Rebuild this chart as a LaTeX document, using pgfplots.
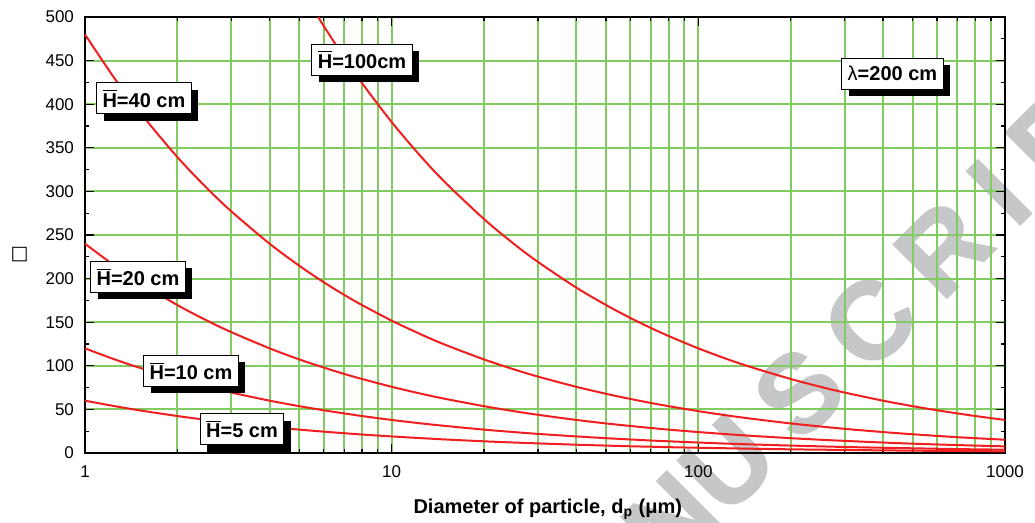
\documentclass[border=0pt]{standalone}
\usepackage{pgfplots}
\pgfplotsset{compat=1.18}
\usepackage{fontspec}
\setmainfont{Liberation Sans}
\newfontfamily\dejavu{DejaVu Sans}
\newfontfamily\wmfont{Liberation Sans Bold}[FakeBold=1.5, LetterSpace=22]
\usetikzlibrary{shadows}
\definecolor{gridgreen}{RGB}{128,204,96}
\definecolor{curvered}{RGB}{240,30,30}
\definecolor{wmgray}{RGB}{198,199,200}
\tikzset{lbl/.style={draw=black, line width=0.5pt, fill=white,
  font=\bfseries\fontsize{10}{12}\selectfont, inner xsep=3pt, inner ysep=2pt,
  minimum height=15.5pt,
  drop shadow={shadow xshift=3.5pt, shadow yshift=-3.5pt, opacity=1, fill=black}}}
\begin{document}
\begin{tikzpicture}
% watermark, beneath the chart
\node[rotate=45, anchor=base west, text=wmgray, inner sep=0]
  at (320.5pt,-33pt) {\wmfont\fontsize{55}{60}\selectfont USCRIPT};
\node[rotate=45, anchor=base east, text=wmgray, inner sep=0]
  at (320.5pt,-33pt) {\wmfont\fontsize{55}{60}\selectfont ACCEPTED MAN};
\begin{axis}[
  at={(0,0)}, anchor=south west,
  xmode=log, xmin=1, xmax=1000, ymin=0, ymax=500,
  scale only axis, width=460pt, height=218pt,
  xtick={1,10,100,1000}, xticklabels={1,10,100,1000},
  minor xtick={2,3,4,5,6,7,8,9,20,30,40,50,60,70,80,90,200,300,400,500,600,700,800,900},
  ytick={0,50,...,500}, minor ytick={25,75,...,475},
  xmajorgrids, xminorgrids, ymajorgrids,
  major grid style={gridgreen, line width=1pt},
  minor grid style={gridgreen, line width=1pt},
  tick align=inside, major tick length=4.5pt, minor tick length=2.2pt,
  every tick/.style={black, line width=0.6pt},
  axis line style={line width=1pt},
  /pgf/number format/assume math mode=true,
  tick label style={font=\fontsize{8.5}{10}\selectfont},
  xticklabel style={yshift=-3pt},
  yticklabel style={xshift=-2pt},
  xlabel={Diameter of particle, d\textsubscript{p} (μm)},
  xlabel style={font=\bfseries\fontsize{10}{12}\selectfont, at={(axis description cs:0.503,0)}, anchor=base, yshift=-30.5pt},
  ylabel={\dejavu □},
  ylabel style={rotate=-90, font=\fontsize{9.5}{11}\selectfont, at={(axis description cs:-0.0712,0.455)}, anchor=center},
  clip=false,
]
% H = 100 cm
\addplot[curvered, line width=1pt, smooth] coordinates {
(5.76,500) (6,489.9) (7,453.6) (8,424.3) (10,379.5) (12.5,339.4) (15,309.8) (20,268.3)
(25,240) (30,219.1) (40,189.7) (50,169.7) (60,154.9) (70,143.4) (80,134.2) (100,120)
(125,107.3) (150,98.0) (200,84.9) (250,75.9) (300,69.3) (400,60) (500,53.7) (600,49.0)
(700,45.4) (800,42.4) (1000,37.9)};
% H = 40 cm
\addplot[curvered, line width=1pt, smooth] coordinates {
(1,480) (1.25,429.3) (1.5,391.9) (2,339.4) (2.5,303.6) (3,277.1) (4,240) (5,214.7)
(6,195.9) (7,181.4) (8,169.7) (10,151.8) (12.5,135.8) (15,123.9) (20,107.3) (25,96)
(30,87.6) (40,75.9) (50,67.9) (60,62.0) (70,57.4) (80,53.7) (100,48) (125,42.9)
(150,39.2) (200,33.9) (250,30.4) (300,27.7) (400,24) (500,21.5) (600,19.6) (700,18.1)
(800,17.0) (1000,15.2)};
% H = 20 cm
\addplot[curvered, line width=1pt, smooth] coordinates {
(1,240) (1.25,214.7) (1.5,196.0) (2,169.7) (2.5,151.8) (3,138.6) (4,120) (5,107.3)
(6,98.0) (7,90.7) (8,84.9) (10,75.9) (12.5,67.9) (15,62.0) (20,53.7) (25,48)
(30,43.8) (40,37.9) (50,33.9) (60,31.0) (70,28.7) (80,26.8) (100,24) (125,21.5)
(150,19.6) (200,17.0) (250,15.2) (300,13.9) (400,12) (500,10.7) (600,9.8) (700,9.1)
(800,8.5) (1000,7.6)};
% H = 10 cm
\addplot[curvered, line width=1pt, smooth] coordinates {
(1,120) (1.25,107.3) (1.5,98.0) (2,84.9) (2.5,75.9) (3,69.3) (4,60) (5,53.7)
(6,49.0) (7,45.4) (8,42.4) (10,37.9) (12.5,33.9) (15,31.0) (20,26.8) (25,24)
(30,21.9) (40,19.0) (50,17.0) (60,15.5) (70,14.3) (80,13.4) (100,12) (125,10.7)
(150,9.8) (200,8.5) (250,7.6) (300,6.9) (400,6) (500,5.4) (600,4.9) (700,4.5)
(800,4.2) (1000,3.8)};
% H = 5 cm
\addplot[curvered, line width=1pt, smooth] coordinates {
(1,60) (1.25,53.7) (1.5,49.0) (2,42.4) (2.5,37.9) (3,34.6) (4,30) (5,26.8)
(6,24.5) (7,22.7) (8,21.2) (10,19.0) (12.5,17.0) (15,15.5) (20,13.4) (25,12)
(30,11.0) (40,9.5) (50,8.5) (60,7.7) (70,7.2) (80,6.7) (100,6) (125,5.4)
(150,4.9) (200,4.2) (250,3.8) (300,3.5) (400,3) (500,2.7) (600,2.4) (700,2.3)
(800,2.1) (1000,1.9)};

\node[lbl] at (rel axis cs:0.0641,0.8131) {$\overline{\mbox{H}}$=40 cm};
\node[lbl] at (rel axis cs:0.3011,0.9025) {$\overline{\mbox{H}}$=100cm};
\node[lbl] at (rel axis cs:0.0576,0.4037) {$\overline{\mbox{H}}$=20 cm};
\node[lbl] at (rel axis cs:0.1152,0.1881) {$\overline{\mbox{H}}$=10 cm};
\node[lbl] at (rel axis cs:0.1707,0.0550) {$\overline{\mbox{H}}$=5 cm};
\node[lbl] at (rel axis cs:0.8777,0.8704) {{\mdseries λ}=200 cm};
\end{axis}
\pgfresetboundingbox
\path[use as bounding box] (-42.5pt,-35pt) rectangle (475pt,226.5pt);
\end{tikzpicture}
\end{document}
